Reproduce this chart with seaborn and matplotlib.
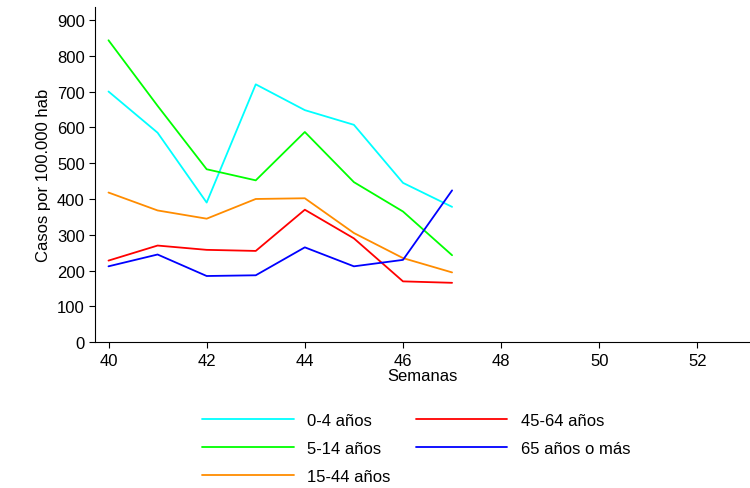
import matplotlib
matplotlib.use('Agg')
import matplotlib.pyplot as plt
import seaborn as sns
import pandas as pd

weeks = [40, 41, 42, 43, 44, 45, 46, 47]
g_0_4 = [700, 585, 390, 720, 648, 607, 445, 378]
g_5_14 = [843, 660, 483, 452, 587, 447, 365, 243]
g_15_44 = [418, 368, 345, 400, 402, 305, 235, 195]
g_45_64 = [228, 270, 258, 255, 370, 290, 170, 166]
g_65 = [212, 245, 185, 187, 265, 212, 230, 424]

labels = ['0-4 años', '5-14 años', '15-44 años', '45-64 años', '65 años o más']
colors = ['#00ffff', '#00ff00', '#ff8c00', '#ff0000', '#0000ff']
series = [g_0_4, g_5_14, g_15_44, g_45_64, g_65]

df = pd.concat([pd.DataFrame({'Semana': weeks, 'Casos': s, 'Grupo': l})
                for s, l in zip(series, labels)])

sns.set_style('white')
plt.rcParams['font.family'] = ['Liberation Sans', 'DejaVu Sans']
plt.rcParams['text.color'] = 'black'
plt.rcParams['xtick.color'] = 'black'
plt.rcParams['ytick.color'] = 'black'
plt.rcParams['axes.labelcolor'] = 'black'

fig = plt.figure(figsize=(7.5, 4.89), dpi=100)
ax = fig.add_axes([0.127, 0.298, 0.873, 0.685])
sns.lineplot(data=df, x='Semana', y='Casos', hue='Grupo', palette=colors,
             hue_order=labels, linewidth=1.3, ax=ax, legend=False)

ax.set_xlim(39.73, 53.07)
ax.set_ylim(0, 935)
ax.set_xticks([40, 42, 44, 46, 48, 50, 52])
ax.set_yticks(range(0, 901, 100))
ax.tick_params(labelsize=12, length=4, direction='out', left=True, bottom=True, color='black')
ax.set_xlabel('Semanas', fontsize=12, labelpad=0)
ax.set_ylabel('Casos por 100.000 hab', fontsize=12)
for s in ['top', 'right']:
    ax.spines[s].set_visible(False)
for s in ['left', 'bottom']:
    ax.spines[s].set_color('black')

handles = [plt.Line2D([], [], color=c, lw=1.3) for c in colors]
fig.legend(handles, labels, ncol=2,
           loc='upper center', bbox_to_anchor=(0.555, 0.185), frameon=False,
           fontsize=12, handlelength=5.5, columnspacing=1.5, labelspacing=0.8)

fig.savefig('out.png', dpi=100)
